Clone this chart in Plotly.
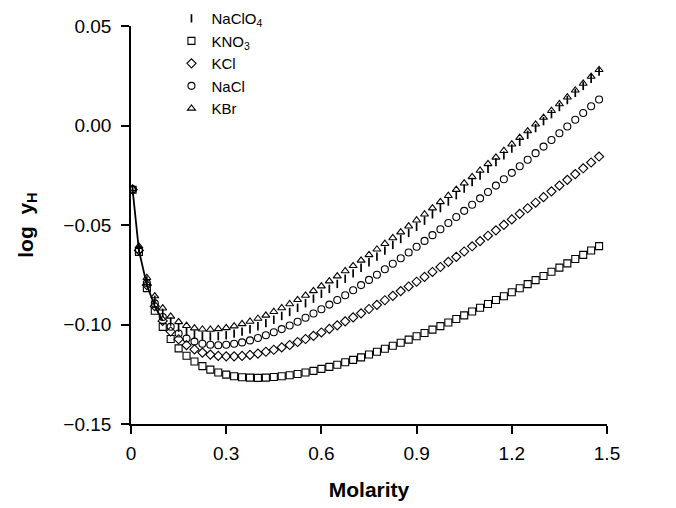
import plotly.graph_objects as go

molarity = [0.005, 0.025, 0.05, 0.075, 0.1, 0.125, 0.15, 0.175, 0.2, 0.225, 0.25, 0.275, 0.3, 0.325, 0.35,
            0.375, 0.4, 0.425, 0.45, 0.475, 0.5, 0.525, 0.55, 0.575, 0.6, 0.625, 0.65, 0.675, 0.7, 0.725,
            0.75, 0.775, 0.8, 0.825, 0.85, 0.875, 0.9, 0.925, 0.95, 0.975, 1.0, 1.025, 1.05, 1.075, 1.1,
            1.125, 1.15, 1.175, 1.2, 1.225, 1.25, 1.275, 1.3, 1.325, 1.35, 1.375, 1.4, 1.425, 1.45, 1.475]

naclo4 = [-0.0319, -0.0616, -0.0779, -0.0876, -0.0941, -0.0985, -0.1016, -0.1037, -0.1050, -0.1057,
          -0.1060, -0.1059, -0.1054, -0.1046, -0.1036, -0.1024, -0.1009, -0.0993, -0.0976, -0.0957,
          -0.0937, -0.0916, -0.0893, -0.0870, -0.0846, -0.0821, -0.0796, -0.0770, -0.0743, -0.0715,
          -0.0687, -0.0659, -0.0629, -0.0600, -0.0570, -0.0540, -0.0509, -0.0478, -0.0446, -0.0415,
          -0.0382, -0.0350, -0.0317, -0.0284, -0.0251, -0.0218, -0.0184, -0.0150, -0.0116, -0.0082,
          -0.0047, -0.0013, 0.0022, 0.0057, 0.0093, 0.0128, 0.0164, 0.0199, 0.0235, 0.0271]

kno3 = [-0.0323, -0.0635, -0.0817, -0.0931, -0.1012, -0.1073, -0.1120, -0.1157, -0.1186, -0.1209,
        -0.1227, -0.1241, -0.1252, -0.1260, -0.1265, -0.1267, -0.1268, -0.1267, -0.1264, -0.1260,
        -0.1255, -0.1249, -0.1241, -0.1233, -0.1223, -0.1213, -0.1202, -0.1190, -0.1178, -0.1165,
        -0.1151, -0.1137, -0.1122, -0.1107, -0.1092, -0.1076, -0.1059, -0.1043, -0.1026, -0.1008,
        -0.0990, -0.0972, -0.0954, -0.0935, -0.0916, -0.0897, -0.0877, -0.0858, -0.0838, -0.0818,
        -0.0797, -0.0777, -0.0756, -0.0735, -0.0714, -0.0693, -0.0671, -0.0650, -0.0628, -0.0606]

kcl = [-0.0322, -0.0628, -0.0802, -0.0908, -0.0982, -0.1035, -0.1074, -0.1104, -0.1125, -0.1141,
       -0.1151, -0.1158, -0.1160, -0.1160, -0.1158, -0.1153, -0.1146, -0.1137, -0.1127, -0.1115,
       -0.1103, -0.1088, -0.1073, -0.1057, -0.1040, -0.1022, -0.1004, -0.0984, -0.0964, -0.0944,
       -0.0922, -0.0901, -0.0878, -0.0856, -0.0832, -0.0809, -0.0785, -0.0761, -0.0736, -0.0711,
       -0.0685, -0.0660, -0.0633, -0.0607, -0.0581, -0.0554, -0.0527, -0.0499, -0.0472, -0.0444,
       -0.0416, -0.0388, -0.0360, -0.0331, -0.0302, -0.0273, -0.0244, -0.0215, -0.0186, -0.0156]

nacl = [-0.0321, -0.0623, -0.0792, -0.0894, -0.0962, -0.1011, -0.1045, -0.1070, -0.1086, -0.1097,
        -0.1102, -0.1104, -0.1102, -0.1097, -0.1090, -0.1080, -0.1068, -0.1054, -0.1039, -0.1023,
        -0.1005, -0.0986, -0.0966, -0.0945, -0.0923, -0.0900, -0.0877, -0.0853, -0.0828, -0.0802,
        -0.0776, -0.0750, -0.0722, -0.0695, -0.0667, -0.0638, -0.0609, -0.0580, -0.0551, -0.0521,
        -0.0490, -0.0460, -0.0429, -0.0398, -0.0366, -0.0334, -0.0302, -0.0270, -0.0238, -0.0205,
        -0.0172, -0.0139, -0.0106, -0.0073, -0.0039, -0.0005, 0.0029, 0.0063, 0.0097, 0.0131]

kbr = [-0.0317, -0.0607, -0.0765, -0.0857, -0.0918, -0.0959, -0.0987, -0.1006, -0.1018, -0.1024,
       -0.1025, -0.1022, -0.1017, -0.1008, -0.0997, -0.0985, -0.0970, -0.0954, -0.0936, -0.0917,
       -0.0897, -0.0876, -0.0854, -0.0831, -0.0807, -0.0782, -0.0757, -0.0731, -0.0705, -0.0678,
       -0.0650, -0.0622, -0.0594, -0.0565, -0.0536, -0.0506, -0.0476, -0.0446, -0.0415, -0.0384,
       -0.0353, -0.0322, -0.0290, -0.0258, -0.0226, -0.0193, -0.0160, -0.0127, -0.0094, -0.0061,
       -0.0028, 0.0006, 0.0040, 0.0074, 0.0108, 0.0142, 0.0177, 0.0211, 0.0246, 0.0280]

series_names = ["NaClO<sub>4</sub>", "KNO<sub>3</sub>", "KCl", "NaCl", "KBr"]
x_tickvals = [0, 0.3, 0.6, 0.9, 1.2, 1.5]
x_ticktext = ["0", "0.3", "0.6", "0.9", "1.2", "1.5"]
y_tickvals = [-0.15, -0.10, -0.05, 0.00, 0.05]

FONT = "Liberation Sans"
fig = go.Figure()

# short connecting line through the dilute points
fig.add_trace(go.Scatter(x=molarity[:5], y=kcl[:5], mode="lines",
                         line=dict(color="black", width=1.8), showlegend=False, hoverinfo="skip"))

styles = [
    (naclo4, dict(symbol="line-ns", size=6, color="black", line=dict(color="black", width=1.7))),
    (kno3, dict(symbol="square-open", size=7, color="black", line=dict(width=1.1))),
    (kcl, dict(symbol="diamond-open", size=7, color="black", line=dict(width=1.1))),
    (nacl, dict(symbol="circle-open", size=7, color="black", line=dict(width=1.1))),
    (kbr, dict(symbol="triangle-up-open", size=7, color="black", line=dict(width=1.1))),
]
for (vals, mk), name in zip(styles, series_names):
    fig.add_trace(go.Scatter(x=molarity, y=vals, mode="markers", name=name, marker=mk))

axis_common = dict(showline=True, linecolor="black", linewidth=1.6, ticks="outside",
                   ticklen=8, tickwidth=1.6, tickcolor="black", showgrid=False, zeroline=False,
                   mirror=False, automargin=False,
                   tickfont=dict(family=FONT, size=19, color="black"))

fig.update_xaxes(range=[0, 1.5], tickvals=x_tickvals, ticktext=x_ticktext, ticklabelstandoff=3,
                 title=dict(text="<b>Molarity</b>", font=dict(family=FONT, size=21, color="black"),
                            standoff=20), **axis_common)
fig.update_yaxes(range=[-0.15, 0.05], tickvals=y_tickvals, tickformat=".2f", ticklabelstandoff=6,
                 title=dict(text="<b>log  y<sub>H</sub></b>", font=dict(family=FONT, size=21, color="black"),
                            standoff=24), **axis_common)

fig.update_layout(
    width=676, height=508,
    margin=dict(l=131, r=69, t=26, b=84, autoexpand=False),
    plot_bgcolor="white", paper_bgcolor="white",
    legend=dict(x=0.085, y=1.06, xanchor="left", yanchor="top", bgcolor="rgba(0,0,0,0)",
                font=dict(family=FONT, size=15, color="black"), tracegroupgap=0, itemwidth=30),
)

fig.write_html("out.html", config={"displayModeBar": False},
               post_script="document.body.style.margin='0';")
